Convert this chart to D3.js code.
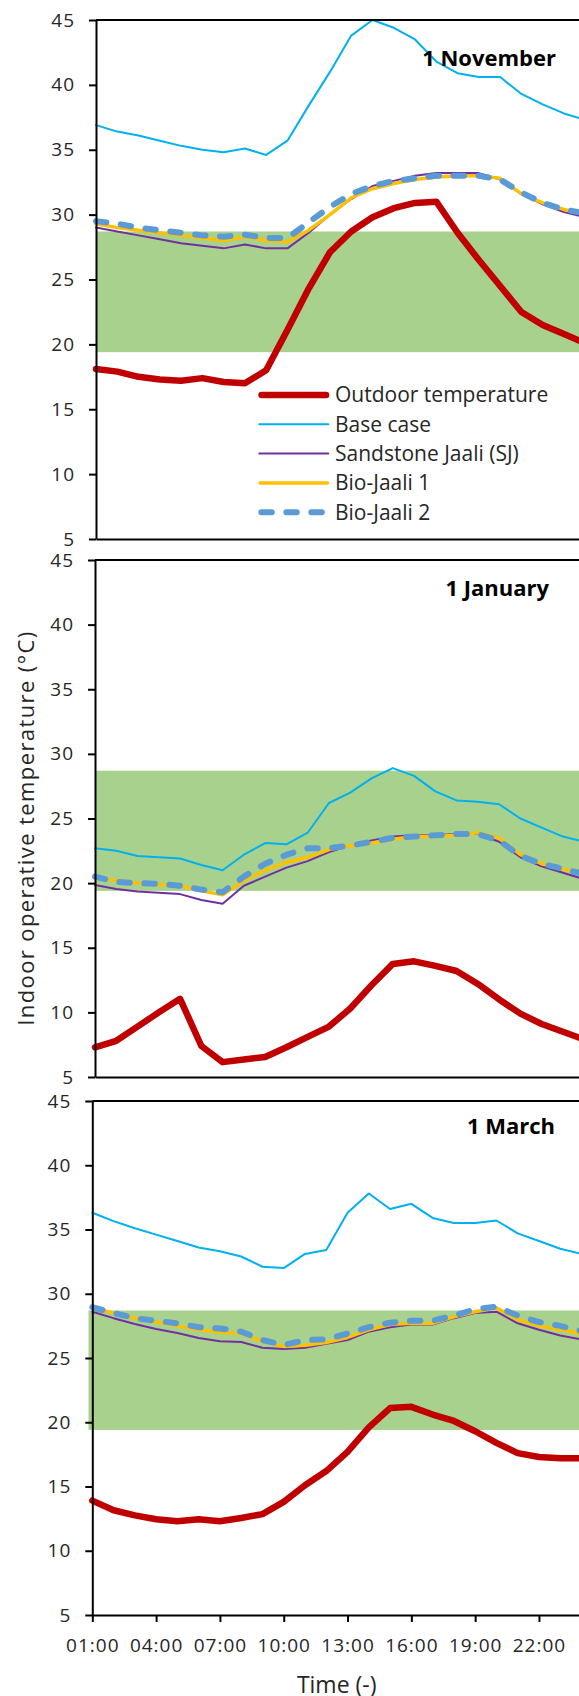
<!DOCTYPE html>
<html>
<head>
<meta charset="utf-8">
<script src="https://cdn.jsdelivr.net/npm/d3@7"></script>
<style>
  body { margin: 0; background: #fff; }
  svg { display: block; }
  .tick text { font-family: "Open Sans", sans-serif; }
</style>
</head>
<body>
<svg id="chart" width="579" height="1696"></svg>
<script>
// hours of the day (01:00 .. 24:00)
var hours = [1,2,3,4,5,6,7,8,9,10,11,12,13,14,15,16,17,18,19,20,21,22,23,24];
var tickHours = [1,4,7,10,13,16,19,22];
var yTicks = [5,10,15,20,25,30,35,40,45];

// comfort band (green)
var comfortLow = 19.4, comfortHigh = 28.7;

// 1 November
var novOutdoor   = [18.1,17.9,17.5,17.3,17.2,17.4,17.1,17.0,18.0,21.1,24.3,27.1,28.7,29.8,30.5,30.9,31.0,28.6,26.5,24.5,22.5,21.5,20.8,20.1];
var novBase      = [36.9,36.4,36.1,35.7,35.3,35.0,34.8,35.1,34.6,35.7,38.4,41.0,43.8,45.0,44.4,43.5,41.8,40.9,40.6,40.6,39.3,38.5,37.8,37.3];
var novSandstone = [29.0,28.7,28.4,28.1,27.8,27.6,27.4,27.7,27.4,27.4,28.6,30.0,31.2,32.2,32.6,33.0,33.2,33.2,33.2,32.7,31.6,30.8,30.2,29.8];
var novBio1      = [29.3,29.0,28.8,28.6,28.4,28.2,28.0,28.3,28.0,27.9,28.8,30.0,31.3,32.0,32.4,32.7,32.9,33.0,33.0,32.8,31.6,30.9,30.4,30.0];
var novBio2      = [29.5,29.3,29.0,28.8,28.6,28.4,28.3,28.45,28.2,28.2,29.4,30.6,31.6,32.2,32.6,32.8,33.0,33.0,33.0,32.7,31.7,30.9,30.4,30.1];

// 1 January
var janOutdoor   = [7.3,7.8,8.9,10.0,11.05,7.4,6.15,6.35,6.55,7.3,8.1,8.9,10.3,12.1,13.75,13.95,13.6,13.2,12.2,11.0,9.9,9.1,8.5,7.9];
var janBase      = [22.7,22.5,22.1,22.0,21.9,21.4,21.0,22.2,23.1,23.0,23.9,26.2,27.0,28.1,28.9,28.3,27.1,26.4,26.3,26.1,25.0,24.3,23.6,23.2];
var janSandstone = [19.85,19.55,19.35,19.25,19.15,18.7,18.4,19.8,20.5,21.2,21.7,22.4,22.9,23.3,23.6,23.7,23.7,23.8,23.8,23.2,22.0,21.3,20.8,20.3];
var janBio1      = [20.4,20.2,20.0,19.9,19.8,19.4,19.1,20.2,21.0,21.6,22.0,22.6,22.9,23.1,23.4,23.6,23.6,23.7,23.9,23.5,22.2,21.5,21.1,20.7];
var janBio2      = [20.5,20.1,20.0,19.95,19.8,19.5,19.3,20.5,21.5,22.2,22.7,22.7,22.9,23.2,23.5,23.6,23.7,23.8,23.8,23.3,22.1,21.5,21.1,20.7];

// 1 March
var marOutdoor   = [13.9,13.15,12.75,12.45,12.3,12.45,12.3,12.55,12.85,13.8,15.1,16.2,17.7,19.6,21.1,21.2,20.6,20.1,19.3,18.4,17.6,17.3,17.2,17.2];
var marBase      = [36.3,35.65,35.1,34.6,34.1,33.6,33.3,32.9,32.1,32.0,33.1,33.4,36.3,37.8,36.6,37.0,35.9,35.5,35.5,35.7,34.7,34.1,33.5,33.1];
var marSandstone = [28.6,28.1,27.65,27.25,26.95,26.55,26.3,26.25,25.8,25.7,25.8,26.1,26.4,27.05,27.4,27.6,27.6,28.1,28.5,28.6,27.7,27.2,26.75,26.45];
var marBio1      = [28.9,28.5,28.1,27.8,27.5,27.2,27.0,26.9,26.3,25.9,26.0,26.2,26.6,27.2,27.6,27.7,27.7,28.2,28.6,28.9,28.0,27.5,27.2,26.9];
var marBio2      = [28.95,28.5,28.1,27.9,27.7,27.4,27.3,27.05,26.4,26.0,26.4,26.45,26.9,27.4,27.75,27.9,27.9,28.3,28.8,29.0,28.3,27.8,27.5,27.1];

var seriesNames = ["Outdoor temperature","Base case","Sandstone Jaali (SJ)","Bio-Jaali 1","Bio-Jaali 2"];
var seriesColors = ["#C00000","#00B0F0","#7030A0","#FFC000","#5B9BD5"];
var seriesWidths = [6.5,2,2,3.5,6];
var seriesDash = [null,null,null,null,"10.5,14.5"];

var panels = [
  {title: "1 November", data: [novOutdoor,novBase,novSandstone,novBio1,novBio2],
   axisX: 96, top: 20, bottom: 539, bandX: 96, titleX: 556, titleY: 66, xLabels: false, legend: true},
  {title: "1 January", data: [janOutdoor,janBase,janSandstone,janBio1,janBio2],
   axisX: 95, top: 560, bottom: 1077, bandX: 95, titleX: 549, titleY: 596, xLabels: false, legend: false},
  {title: "1 March", data: [marOutdoor,marBase,marSandstone,marBio1,marBio2],
   axisX: 92.3, top: 1101, bottom: 1615, bandX: 88.5, titleX: 555, titleY: 1134, xLabels: true, legend: false}
];

var svg = d3.select("#chart"),
    width = +svg.attr("width");
var hourPx = 21.27;
var textColor = "#262626";

panels.forEach(function(p) {
    var x = d3.scaleLinear().domain([1,24]).range([p.axisX, p.axisX + 23*hourPx]);
    var y = d3.scaleLinear().domain([5,45]).range([p.bottom, p.top]);
    var g = svg.append("g");

    // comfort band
    g.append("rect")
        .attr("x", p.bandX)
        .attr("y", y(comfortHigh))
        .attr("width", width - p.bandX)
        .attr("height", y(comfortLow) - y(comfortHigh))
        .attr("fill", "#A9D18E");

    var line = d3.line()
        .x(function(d, i) { return x(hours[i]); })
        .y(function(d) { return y(d); });

    p.data.forEach(function(vals, k) {
        g.append("path")
            .datum(vals)
            .attr("d", line)
            .attr("fill", "none")
            .attr("stroke", seriesColors[k])
            .attr("stroke-width", seriesWidths[k])
            .attr("stroke-linejoin", "round")
            .attr("stroke-linecap", "round")
            .attr("stroke-dasharray", seriesDash[k]);
    });

    // axes
    var yAxis = g.append("g")
        .attr("transform", "translate(" + p.axisX + ",0)")
        .call(d3.axisLeft(y).tickValues(yTicks).tickSize(7).tickSizeOuter(0).tickPadding(14));
    var xAxis = g.append("g")
        .attr("transform", "translate(0," + p.bottom + ")")
        .call(d3.axisBottom(x)
            .tickValues(p.xLabels ? tickHours : [])
            .tickSize(7).tickSizeOuter(0).tickPadding(17)
            .tickFormat(function(h) { return (h < 10 ? "0" : "") + h + ":00"; }));

    [yAxis, xAxis].forEach(function(a) {
        a.attr("font-family", "'Open Sans', sans-serif").attr("font-size", 19);
        a.selectAll("path, line").attr("stroke", "#000").attr("stroke-width", 2);
        a.selectAll("text").attr("fill", textColor).style("letter-spacing", "1px");
    });

    // top border
    g.append("line")
        .attr("x1", p.axisX).attr("x2", width)
        .attr("y1", p.top).attr("y2", p.top)
        .attr("stroke", "#000").attr("stroke-width", 2);

    g.append("text")
        .attr("x", p.titleX)
        .attr("y", p.titleY)
        .attr("text-anchor", "end")
        .style("font-family", "'Open Sans', sans-serif")
        .style("font-weight", "bold")
        .style("font-size", "22px")
        .attr("fill", "#000")
        .text(p.title);

    if (p.legend) {
        var legend = g.selectAll(".legend")
            .data(seriesNames)
            .enter().append("g")
            .attr("class", "legend")
            .attr("transform", function(d, i) { return "translate(0," + (395 + i * 29.3) + ")"; });

        legend.append("line")
            .attr("x1", function(d, i) { return 258.3 + seriesWidths[i] / 2; })
            .attr("x2", function(d, i) { return 329.3 - seriesWidths[i] / 2; })
            .attr("stroke", function(d, i) { return seriesColors[i]; })
            .attr("stroke-width", function(d, i) { return seriesWidths[i]; })
            .attr("stroke-linecap", "round")
            .attr("stroke-dasharray", function(d, i) { return seriesDash[i]; });

        legend.append("text")
            .attr("x", 335)
            .attr("dy", ".35em")
            .style("font-family", "'Open Sans', sans-serif")
            .style("font-size", "21px")
            .attr("fill", textColor)
            .text(function(d) { return d; });
    }
});

// shared axis titles
svg.append("text")
    .attr("transform", "translate(34,828) rotate(-90)")
    .attr("text-anchor", "middle")
    .style("font-family", "'Open Sans', sans-serif")
    .style("font-size", "22px")
    .style("letter-spacing", "1.4px")
    .attr("fill", textColor)
    .text("Indoor operative temperature (°C)");

svg.append("text")
    .attr("x", 336.7)
    .attr("y", 1693)
    .attr("text-anchor", "middle")
    .style("font-family", "'Open Sans', sans-serif")
    .style("font-size", "23px")
    .attr("fill", textColor)
    .text("Time (-)");
</script>
</body>
</html>
